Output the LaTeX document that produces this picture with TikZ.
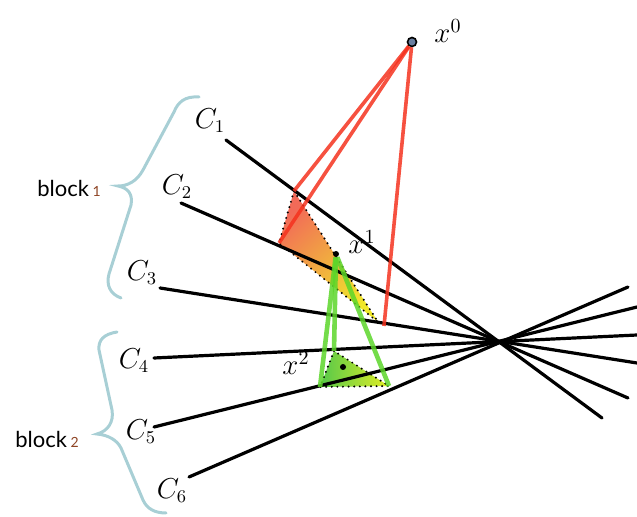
\documentclass[tikz,border=0pt]{standalone}
\usepackage{fontspec}
\usepackage{tikz}
\usetikzlibrary{calc}
\newfontfamily\blockfont{Lato}
\definecolor{inkred}{HTML}{F5321E}
\definecolor{inkleaf}{HTML}{5CD62A}
\definecolor{inkbrace}{HTML}{A8CFD5}
\definecolor{inkbrown}{HTML}{8E4424}
\definecolor{inkdot}{HTML}{6A7FA0}
\definecolor{fillsalmon}{HTML}{F26A58}
\definecolor{fillorange}{HTML}{F9A64A}
\definecolor{fillyellow}{HTML}{F0E82A}
\definecolor{fillgreen}{HTML}{55C84A}
\definecolor{filllime}{HTML}{E2EE26}
\tikzset{cut/.style={line width=1.6pt,line cap=round},clabel/.style={font=\fontsize{13.5}{16}\selectfont},xlabel/.style={font=\fontsize{14.5}{17}\selectfont},ray/.style={line width=1.8pt,inkred,opacity=.85},proj/.style={line width=2.3pt,inkleaf,opacity=.85},rim/.style={line width=1.1pt,dash pattern=on 0pt off 2.8pt,line cap=round},iterate/.style={circle,fill=black,inner sep=0pt,minimum size=3pt},brace/.style={inkbrace,line width=1.5pt,line cap=round},blocktext/.style={font=\blockfont\fontsize{11}{13}\selectfont}}

\begin{document}
\begin{tikzpicture}[x=0.5pt,y=-0.5pt]
\useasboundingbox (0,0) rectangle (637,517);
% simplices of the two iterates
\coordinate (s0) at (294,191); \coordinate (s1) at (279,243); \coordinate (s2) at (378,322);
\coordinate (t0) at (334,351); \coordinate (t1) at (320,387); \coordinate (t2) at (389,386);
\shade[left color=fillsalmon,middle color=fillorange,right color=fillyellow,shading angle=42] (s0)--(s1)--(s2)--cycle;
\shade[left color=fillgreen,right color=filllime] (t0)--(t1)--(t2)--cycle;
\draw[rim] (s0)--(s1)--(s2)--cycle (t0)--(t1)--(t2)--cycle;
% constraint sets
\foreach \i/\ax/\ay/\bx/\by in {1/226/140/602/418,2/181/203/628/398,3/160/288/637/363,4/154/358/637/335,5/154/427/637/307,6/189/477/628/287}{\coordinate (a\i) at (\ax,\ay); \coordinate (b\i) at (\bx,\by); \draw[cut] (a\i)--(b\i);}
\foreach \i/\x/\y in {1/210/121,2/177/187,3/142/273,4/134/361,5/141/432,6/172/491}{\node[clabel] (c\i) at (\x,\y) {$C_\i$};}
% iterates
\node[iterate,fill=inkdot,draw=black,line width=.8pt,minimum size=4.5pt] (x0) at (412,42) {};
\node[iterate] (x1) at (336,254) {};
\node[iterate] (x2) at (343,367) {};
\coordinate (r2) at (384,326);
\draw[ray] (x0)--(s0); \draw[ray] (x0)--(s1); \draw[ray] (x0)--(r2);
\draw[proj] (x1)--(t0); \draw[proj] (x1)--(t1); \draw[proj] (x1)--(t2);
\node[xlabel] (lx0) at (448,31) {$x^0$};
\node[xlabel] (lx1) at (362,242) {$x^1$};
\node[xlabel] (lx2) at (296,363) {$x^2$};
% blocks
\draw[brace] (199,97) .. controls (185,96) and (178,102) .. (174,112) -- (143,170) .. controls (137,181) and (128,186) .. (118,186) .. controls (128,188) and (133,194) .. (131,205) -- (109,274) .. controls (106,285) and (110,294) .. (121,298);
\draw[brace] (117,332) .. controls (104,334) and (98,340) .. (99,350) -- (112,410) .. controls (114,422) and (108,431) .. (97,434) .. controls (108,435) and (117,440) .. (121,448) -- (143,500) .. controls (147,509) and (155,513) .. (166,513);
\node[blocktext] (blk1) at (69,188) {block\,{\fontsize{7}{8}\selectfont\color{inkbrown}1}};
\node[blocktext] (blk2) at (47,439) {block\,{\fontsize{7}{8}\selectfont\color{inkbrown}2}};
\end{tikzpicture}
\end{document}
